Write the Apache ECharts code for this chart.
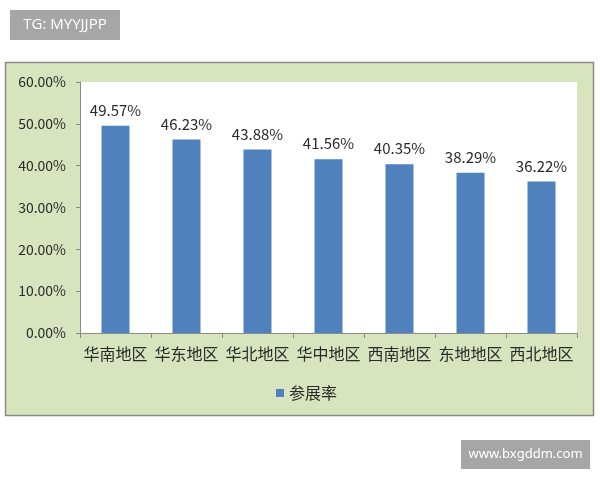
<!DOCTYPE html>
<html><head><meta charset="utf-8">
<script src="https://cdn.jsdelivr.net/npm/echarts@6/dist/echarts.min.js"></script>
<style>html,body{margin:0;padding:0;background:#fff}#c{width:600px;height:480px}</style>
</head><body><div id="c"></div>
<script>
var categories = ['华南地区','华东地区','华北地区','华中地区','西南地区','东地地区','西北地区'];
var values = [49.57, 46.23, 43.88, 41.56, 40.35, 38.29, 36.22];
var yTicks = [0, 10, 20, 30, 40, 50, 60];
var seriesName = '参展率';
var FONT = '"Noto Sans CJK SC", "Noto Sans", sans-serif';
var chart = echarts.init(document.getElementById('c'), null, {renderer:'canvas'});
chart.setOption({
  backgroundColor: '#fff',
  animation: false,
  graphic: [
    {type:'rect', z:-10, shape:{x:5.5,y:62.5,width:588,height:353}, style:{fill:'#D7E4BD', stroke:'#8A8A8A', lineWidth:1.5}},
    {type:'rect', shape:{x:10,y:10,width:110,height:30}, style:{fill:'#A6A6A6'}},
    {type:'text', x:65, y:25, style:{text:'TG: MYYJJPP', fill:'#fff', font:'15px "Open Sans", sans-serif', textAlign:'center', textVerticalAlign:'middle'}},
    {type:'rect', shape:{x:461,y:440,width:129,height:29}, style:{fill:'#A6A6A6'}},
    {type:'text', x:525.5, y:454.5, style:{text:'www.bxgddm.com', fill:'#fff', font:'13px "Noto Sans", sans-serif', textAlign:'center', textVerticalAlign:'middle'}}
  ],
  grid: {left:80, right:23, top:82, bottom:147, show:true, backgroundColor:'#fff', borderWidth:0},
  legend: {
    data:[seriesName], left:271, top:380, icon:'rect', itemWidth:8, itemHeight:8, itemGap:4,
    textStyle:{fontFamily:FONT, fontSize:16, color:'#2a2a2a'}
  },
  xAxis: {
    type:'category', data:categories,
    axisLine:{lineStyle:{color:'#8A8A8A'}},
    axisTick:{show:true, length:5, lineStyle:{color:'#8A8A8A'}},
    axisLabel:{fontFamily:FONT, fontSize:16, color:'#2a2a2a', margin:13, interval:0}
  },
  yAxis: {
    type:'value', min:0, max:60, interval:10,
    axisLine:{show:true, lineStyle:{color:'#8A8A8A'}},
    axisTick:{show:true, length:4, lineStyle:{color:'#8A8A8A'}},
    splitLine:{show:false},
    axisLabel:{fontFamily:FONT, fontSize:14, color:'#2a2a2a', margin:14, formatter:function(v){return v.toFixed(2)+'%';}}
  },
  series: [{
    name:seriesName, type:'bar', data:values, barWidth:28,
    itemStyle:{color:'#4F81BD'},
    label:{show:true, position:'top', distance:8, fontFamily:FONT, fontSize:15, color:'#2a2a2a', formatter:function(p){return p.value.toFixed(2)+'%';}}
  }]
});
</script></body></html>
